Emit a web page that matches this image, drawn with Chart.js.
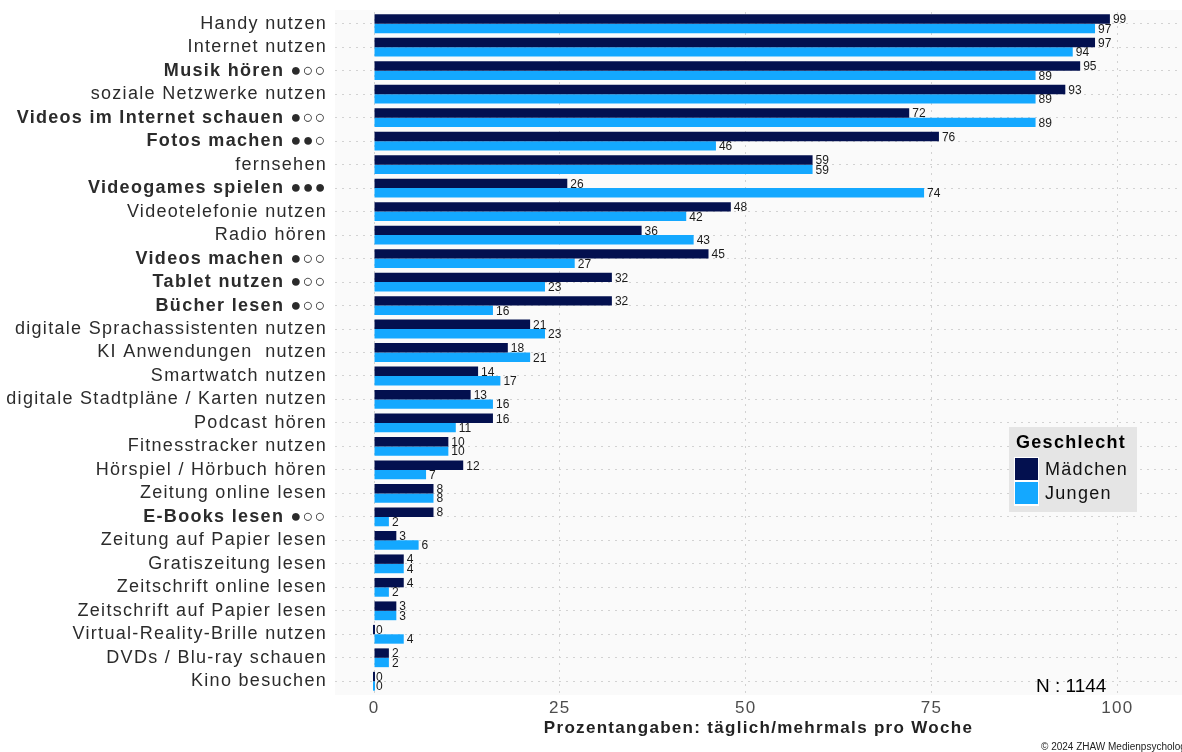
<!DOCTYPE html>
<html>
<head>
<meta charset="utf-8">
<script src="https://cdn.jsdelivr.net/npm/chart.js@4.4.1/dist/chart.umd.min.js"></script>
<style>
  html, body { margin: 0; padding: 0; background: #fff; }
  #wrap { width: 1182px; height: 752px; position: relative; }
</style>
</head>
<body>
<div id="wrap"><canvas id="usage"></canvas></div>
<script>
// Mediennutzung täglich/mehrmals pro Woche, nach Geschlecht (in %)
const categories = [
  "Handy nutzen",
  "Internet nutzen",
  "Musik hören ●○○",
  "soziale Netzwerke nutzen",
  "Videos im Internet schauen ●○○",
  "Fotos machen ●●○",
  "fernsehen",
  "Videogames spielen ●●●",
  "Videotelefonie nutzen",
  "Radio hören",
  "Videos machen ●○○",
  "Tablet nutzen ●○○",
  "Bücher lesen ●○○",
  "digitale Sprachassistenten nutzen",
  "KI Anwendungen  nutzen",
  "Smartwatch nutzen",
  "digitale Stadtpläne / Karten nutzen",
  "Podcast hören",
  "Fitnesstracker nutzen",
  "Hörspiel / Hörbuch hören",
  "Zeitung online lesen",
  "E-Books lesen ●○○",
  "Zeitung auf Papier lesen",
  "Gratiszeitung lesen",
  "Zeitschrift online lesen",
  "Zeitschrift auf Papier lesen",
  "Virtual-Reality-Brille nutzen",
  "DVDs / Blu-ray schauen",
  "Kino besuchen"
];

const maedchen = [99, 97, 95, 93, 72, 76, 59, 26, 48, 36, 45, 32, 32, 21, 18, 14, 13, 16, 10, 12, 8, 8, 3, 4, 4, 3, 0, 2, 0];
const jungen   = [97, 94, 89, 89, 89, 46, 59, 74, 42, 43, 27, 23, 16, 23, 21, 17, 16, 11, 10, 7, 8, 2, 6, 4, 2, 3, 4, 2, 0];

const xTicks = [0, 25, 50, 75, 100];
const sampleSize = 1144;

const DARK = "#03104f";
const LIGHT = "#14a8ff";
const FONT = "'Liberation Sans', Arial, sans-serif";

// grey panel behind the bars (a little taller than the category band)
const panelBg = {
  id: "panelBg",
  beforeDraw(chart) {
    const { ctx, chartArea: a } = chart;
    ctx.letterSpacing = "1.3px";
    ctx.save();
    ctx.fillStyle = "#fafafa";
    ctx.fillRect(a.left, a.top - 2, a.right - a.left, a.bottom - a.top + 4);
    ctx.restore();
  }
};

// numbers at the end of each bar
const barValues = {
  id: "barValues",
  afterDatasetsDraw(chart) {
    const ctx = chart.ctx;
    ctx.save();
    ctx.letterSpacing = "0px";
    ctx.font = "12px " + FONT;
    ctx.fillStyle = "#1a1a1a";
    ctx.textAlign = "left";
    ctx.textBaseline = "middle";
    chart.data.datasets.forEach((ds, i) => {
      chart.getDatasetMeta(i).data.forEach((el, j) => {
        ctx.fillText(String(ds.data[j]), el.x + 3, el.y + 1);
      });
    });
    ctx.restore();
  }
};

// legend box, sample size and credit line
const extras = {
  id: "extras",
  afterDraw(chart) {
    const ctx = chart.ctx;
    ctx.save();

    // legend
    ctx.fillStyle = "#e5e5e5";
    ctx.fillRect(1009, 427, 128, 85);
    ctx.fillStyle = "#000";
    ctx.font = "bold 18px " + FONT;
    ctx.textBaseline = "middle";
    ctx.textAlign = "left";
    ctx.fillText("Geschlecht", 1016, 443);
    chart.data.datasets.forEach((ds, i) => {
      const y = 458 + i * 24;
      ctx.fillStyle = "#fff";
      ctx.fillRect(1014, y - 1, 25, 25);
      ctx.fillStyle = ds.backgroundColor;
      ctx.fillRect(1015, y, 23, 22);
      ctx.fillStyle = "#111";
      ctx.font = "18px " + FONT;
      ctx.fillText(ds.label, 1045, y + 12);
    });

    // sample size
    ctx.letterSpacing = "0px";
    ctx.fillStyle = "#000";
    ctx.font = "19px " + FONT;
    ctx.fillText("N : " + sampleSize, 1036, 687);

    // credit
    ctx.fillStyle = "#222";
    ctx.font = "10px " + FONT;
    ctx.fillText("© 2024 ZHAW Medienpsychologie", 1041, 747);

    ctx.restore();
  }
};

new Chart(document.getElementById("usage"), {
  type: "bar",
  data: {
    labels: categories,
    datasets: [
      {
        label: "Mädchen",
        data: maedchen,
        backgroundColor: DARK,
        borderWidth: 0,
        minBarLength: 2,
        categoryPercentage: 0.8,
        barPercentage: 1.0
      },
      {
        label: "Jungen",
        data: jungen,
        backgroundColor: LIGHT,
        borderWidth: 0,
        minBarLength: 2,
        categoryPercentage: 0.8,
        barPercentage: 1.0
      }
    ]
  },
  options: {
    indexAxis: "y",
    responsive: true,
    maintainAspectRatio: false,
    animation: false,
    layout: { padding: { top: 12, right: 0, bottom: 0, left: 0 } },
    plugins: {
      legend: { display: false },
      tooltip: { enabled: false }
    },
    scales: {
      x: {
        type: "linear",
        min: -5.25,
        max: 108.7,
        afterBuildTicks: s => { s.ticks = xTicks.map(v => ({ value: v })); },
        afterFit: s => {
          s.height = 59;
          s.paddingLeft = 0;
          s.paddingRight = 0;
        },
        grid: { color: "#d2d2d2", lineWidth: 1, drawTicks: false },
        border: { display: false, dash: [2, 5] },
        ticks: {
          color: "#4d4d4d",
          padding: 5,
          font: { family: FONT, size: 17 }
        },
        title: {
          display: true,
          text: "Prozentangaben: täglich/mehrmals pro Woche",
          color: "#222",
          font: { family: FONT, size: 17, weight: "bold" },
          padding: { top: 0, bottom: 13 }
        }
      },
      y: {
        afterFit: s => {
          s.width = 335;
          s.paddingTop = 0;
          s.paddingBottom = 0;
        },
        grid: { color: "#d2d2d2", lineWidth: 1, drawTicks: false, offset: false },
        border: { display: false, dash: [2, 5] },
        ticks: {
          autoSkip: false,
          color: "#2b2b2b",
          padding: 8,
          font: ctx => ({
            family: FONT,
            size: 18,
            weight: categories[ctx.index] && categories[ctx.index].includes("●") ? "bold" : "normal"
          })
        }
      }
    }
  },
  plugins: [panelBg, barValues, extras]
});
</script>
</body>
</html>
